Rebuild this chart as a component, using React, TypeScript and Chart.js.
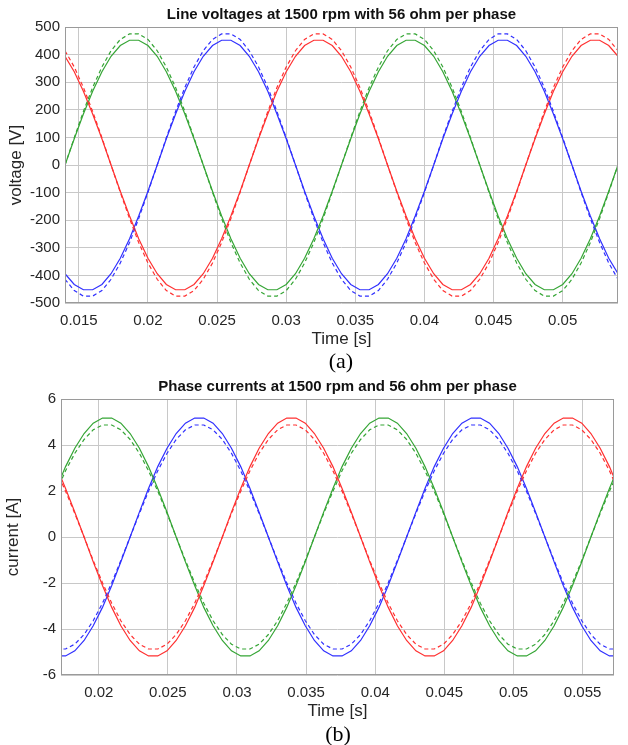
import React, { useEffect, useRef } from "react";
import { Chart, registerables } from "chart.js";

Chart.register(...registerables);

const FONT = "'Liberation Sans', Arial, Helvetica, sans-serif";

// ---------------- (a) Line voltages ----------------
const V_TIME = [
  0.014, 0.01467, 0.01533, 0.016, 0.01667, 0.01733, 0.018, 0.01867, 0.01933, 0.02,
  0.02067, 0.02133, 0.022, 0.02267, 0.02333, 0.024, 0.02467, 0.02533, 0.026, 0.02667,
  0.02733, 0.028, 0.02867, 0.02933, 0.03, 0.03067, 0.03133, 0.032, 0.03267, 0.03333,
  0.034, 0.03467, 0.03533, 0.036, 0.03667, 0.03733, 0.038, 0.03867, 0.03933, 0.04,
  0.04067, 0.04133, 0.042, 0.04267, 0.04333, 0.044, 0.04467, 0.04533, 0.046, 0.04667,
  0.04733, 0.048, 0.04867, 0.04933, 0.05, 0.05067, 0.05133, 0.052, 0.05267, 0.05333,
  0.054,
];

const V_GREEN_SOLID = [
  0, 95, 185, 267, 338, 394, 433, 452, 452, 433, 394, 338, 267, 185, 95, 0, -95, -185, -267, -338, -394, -433, -452, -452, -433, -394, -338, -267, -185, -95,
  0, 95, 185, 267, 338, 394, 433, 452, 452, 433, 394, 338, 267, 185, 95, 0, -95, -185, -267, -338, -394, -433, -452, -452, -433, -394, -338, -267, -185, -95,
  0,
];
const V_RED_SOLID = [
  394, 338, 267, 185, 95, 0, -95, -185, -267, -338, -394, -433, -452, -452, -433, -394, -338, -267, -185, -95,
  0, 95, 185, 267, 338, 394, 433, 452, 452, 433, 394, 338, 267, 185, 95, 0, -95, -185, -267, -338, -394, -433, -452, -452, -433, -394, -338, -267, -185, -95,
  0, 95, 185, 267, 338, 394, 433, 452, 452, 433, 394,
];
const V_BLUE_SOLID = [
  -394, -433, -452, -452, -433, -394, -338, -267, -185, -95,
  0, 95, 185, 267, 338, 394, 433, 452, 452, 433, 394, 338, 267, 185, 95, 0, -95, -185, -267, -338, -394, -433, -452, -452, -433, -394, -338, -267, -185, -95,
  0, 95, 185, 267, 338, 394, 433, 452, 452, 433, 394, 338, 267, 185, 95, 0, -95, -185, -267, -338, -394,
];
const V_GREEN_DASH = [
  0, 99, 194, 281, 355, 414, 455, 475, 475, 455, 414, 355, 281, 194, 99, 0, -99, -194, -281, -355, -414, -455, -475, -475, -455, -414, -355, -281, -194, -99,
  0, 99, 194, 281, 355, 414, 455, 475, 475, 455, 414, 355, 281, 194, 99, 0, -99, -194, -281, -355, -414, -455, -475, -475, -455, -414, -355, -281, -194, -99,
  0,
];
const V_RED_DASH = [
  414, 355, 281, 194, 99, 0, -99, -194, -281, -355, -414, -455, -475, -475, -455, -414, -355, -281, -194, -99,
  0, 99, 194, 281, 355, 414, 455, 475, 475, 455, 414, 355, 281, 194, 99, 0, -99, -194, -281, -355, -414, -455, -475, -475, -455, -414, -355, -281, -194, -99,
  0, 99, 194, 281, 355, 414, 455, 475, 475, 455, 414,
];
const V_BLUE_DASH = [
  -414, -455, -475, -475, -455, -414, -355, -281, -194, -99,
  0, 99, 194, 281, 355, 414, 455, 475, 475, 455, 414, 355, 281, 194, 99, 0, -99, -194, -281, -355, -414, -455, -475, -475, -455, -414, -355, -281, -194, -99,
  0, 99, 194, 281, 355, 414, 455, 475, 475, 455, 414, 355, 281, 194, 99, 0, -99, -194, -281, -355, -414,
];

const V_X_TICKS = [0.015, 0.02, 0.025, 0.03, 0.035, 0.04, 0.045, 0.05];
const V_X_LABELS = ["0.015", "0.02", "0.025", "0.03", "0.035", "0.04", "0.045", "0.05"];
const V_Y_TICKS = [-500, -400, -300, -200, -100, 0, 100, 200, 300, 400, 500];
const V_Y_LABELS = ["-500", "-400", "-300", "-200", "-100", "0", "100", "200", "300", "400", "500"];

// ---------------- (b) Phase currents ----------------
const I_TIME = [
  0.01694, 0.0176, 0.01827, 0.01894, 0.0196, 0.02027, 0.02094, 0.0216, 0.02227, 0.02294,
  0.0236, 0.02427, 0.02494, 0.0256, 0.02627, 0.02694, 0.0276, 0.02827, 0.02894, 0.0296,
  0.03027, 0.03094, 0.0316, 0.03227, 0.03294, 0.0336, 0.03427, 0.03494, 0.0356, 0.03627,
  0.03694, 0.0376, 0.03827, 0.03894, 0.0396, 0.04027, 0.04094, 0.0416, 0.04227, 0.04294,
  0.0436, 0.04427, 0.04494, 0.0456, 0.04627, 0.04694, 0.0476, 0.04827, 0.04894, 0.0496,
  0.05027, 0.05094, 0.0516, 0.05227, 0.05294, 0.0536, 0.05427, 0.05494, 0.0556, 0.05627,
  0.05694, 0.0576,
];

const I_GREEN_SOLID = [
  2.11, 3.06, 3.86, 4.5, 4.95, 5.17, 5.17, 4.95, 4.5, 3.86, 3.06, 2.11, 1.08, 0, -1.08, -2.11, -3.06, -3.86, -4.5, -4.95, -5.17, -5.17, -4.95, -4.5, -3.86, -3.06, -2.11, -1.08,
  0, 1.08, 2.11, 3.06, 3.86, 4.5, 4.95, 5.17, 5.17, 4.95, 4.5, 3.86, 3.06, 2.11, 1.08, 0, -1.08, -2.11, -3.06, -3.86, -4.5, -4.95, -5.17, -5.17, -4.95, -4.5, -3.86, -3.06, -2.11, -1.08,
  0, 1.08, 2.11, 3.06,
];
const I_RED_SOLID = [
  3.06, 2.11, 1.08, 0, -1.08, -2.11, -3.06, -3.86, -4.5, -4.95, -5.17, -5.17, -4.95, -4.5, -3.86, -3.06, -2.11, -1.08,
  0, 1.08, 2.11, 3.06, 3.86, 4.5, 4.95, 5.17, 5.17, 4.95, 4.5, 3.86, 3.06, 2.11, 1.08, 0, -1.08, -2.11, -3.06, -3.86, -4.5, -4.95, -5.17, -5.17, -4.95, -4.5, -3.86, -3.06, -2.11, -1.08,
  0, 1.08, 2.11, 3.06, 3.86, 4.5, 4.95, 5.17, 5.17, 4.95, 4.5, 3.86, 3.06, 2.11,
];
const I_BLUE_SOLID = [
  -5.17, -5.17, -4.95, -4.5, -3.86, -3.06, -2.11, -1.08,
  0, 1.08, 2.11, 3.06, 3.86, 4.5, 4.95, 5.17, 5.17, 4.95, 4.5, 3.86, 3.06, 2.11, 1.08, 0, -1.08, -2.11, -3.06, -3.86, -4.5, -4.95, -5.17, -5.17, -4.95, -4.5, -3.86, -3.06, -2.11, -1.08,
  0, 1.08, 2.11, 3.06, 3.86, 4.5, 4.95, 5.17, 5.17, 4.95, 4.5, 3.86, 3.06, 2.11, 1.08, 0, -1.08, -2.11, -3.06, -3.86, -4.5, -4.95, -5.17, -5.17,
];
const I_GREEN_DASH = [
  1.99, 2.88, 3.64, 4.24, 4.66, 4.87, 4.87, 4.66, 4.24, 3.64, 2.88, 1.99, 1.02, 0, -1.02, -1.99, -2.88, -3.64, -4.24, -4.66, -4.87, -4.87, -4.66, -4.24, -3.64, -2.88, -1.99, -1.02,
  0, 1.02, 1.99, 2.88, 3.64, 4.24, 4.66, 4.87, 4.87, 4.66, 4.24, 3.64, 2.88, 1.99, 1.02, 0, -1.02, -1.99, -2.88, -3.64, -4.24, -4.66, -4.87, -4.87, -4.66, -4.24, -3.64, -2.88, -1.99, -1.02,
  0, 1.02, 1.99, 2.88,
];
const I_RED_DASH = [
  2.88, 1.99, 1.02, 0, -1.02, -1.99, -2.88, -3.64, -4.24, -4.66, -4.87, -4.87, -4.66, -4.24, -3.64, -2.88, -1.99, -1.02,
  0, 1.02, 1.99, 2.88, 3.64, 4.24, 4.66, 4.87, 4.87, 4.66, 4.24, 3.64, 2.88, 1.99, 1.02, 0, -1.02, -1.99, -2.88, -3.64, -4.24, -4.66, -4.87, -4.87, -4.66, -4.24, -3.64, -2.88, -1.99, -1.02,
  0, 1.02, 1.99, 2.88, 3.64, 4.24, 4.66, 4.87, 4.87, 4.66, 4.24, 3.64, 2.88, 1.99,
];
const I_BLUE_DASH = [
  -4.87, -4.87, -4.66, -4.24, -3.64, -2.88, -1.99, -1.02,
  0, 1.02, 1.99, 2.88, 3.64, 4.24, 4.66, 4.87, 4.87, 4.66, 4.24, 3.64, 2.88, 1.99, 1.02, 0, -1.02, -1.99, -2.88, -3.64, -4.24, -4.66, -4.87, -4.87, -4.66, -4.24, -3.64, -2.88, -1.99, -1.02,
  0, 1.02, 1.99, 2.88, 3.64, 4.24, 4.66, 4.87, 4.87, 4.66, 4.24, 3.64, 2.88, 1.99, 1.02, 0, -1.02, -1.99, -2.88, -3.64, -4.24, -4.66, -4.87, -4.87,
];

const I_X_TICKS = [0.02, 0.025, 0.03, 0.035, 0.04, 0.045, 0.05, 0.055];
const I_X_LABELS = ["0.02", "0.025", "0.03", "0.035", "0.04", "0.045", "0.05", "0.055"];
const I_Y_TICKS = [-6, -4, -2, 0, 2, 4, 6];
const I_Y_LABELS = ["-6", "-4", "-2", "0", "2", "4", "6"];

const RED = "#ff3030";
const GREEN = "#35a535";
const BLUE = "#3030ff";

type Series = { values: number[]; color: string; dashed: boolean };

const boxPlugin = {
  id: "axesBox",
  afterDraw(chart: any) {
    const { ctx, chartArea } = chart;
    const l = Math.round(chartArea.left) + 0.5;
    const t = Math.round(chartArea.top) + 0.5;
    const r = Math.round(chartArea.right) - 0.5;
    const b = Math.round(chartArea.bottom) - 0.5;
    ctx.save();
    ctx.strokeStyle = "#9a9a9a";
    ctx.lineWidth = 1;
    ctx.strokeRect(l, t, r - l, b - t);
    ctx.restore();
  },
};

type PlotProps = {
  top: number;
  title: string;
  yTitle: string;
  time: number[];
  series: Series[];
  xMin: number;
  xMax: number;
  xTicks: number[];
  xLabels: string[];
  yMin: number;
  yMax: number;
  yTicks: number[];
  yLabels: string[];
  yAxisWidth: number;
  rightPad: number;
  yTitlePad: number;
};

function Plot(p: PlotProps) {
  const ref = useRef<HTMLCanvasElement | null>(null);
  useEffect(() => {
    const canvas = ref.current;
    if (!canvas) return;
    const chart = new Chart(canvas, {
      type: "line",
      data: {
        datasets: p.series.map((s) => ({
          data: p.time.map((t, i) => ({ x: t, y: s.values[i] })),
          borderColor: s.color,
          backgroundColor: s.color,
          borderWidth: 1.2,
          borderDash: s.dashed ? [4, 3] : [],
          pointRadius: 0,
          fill: false,
          tension: 0,
        })),
      },
      options: {
        animation: false,
        responsive: false,
        devicePixelRatio: 1,
        events: [],
        layout: { padding: { left: 0, right: p.rightPad, top: 0, bottom: 0 } },
        plugins: {
          legend: { display: false },
          tooltip: { enabled: false },
          title: {
            display: true,
            text: p.title,
            fullSize: false,
            color: "#111",
            font: { family: FONT, size: 15, weight: "bold", lineHeight: 1.2 },
            padding: { top: 6, bottom: 3 },
          },
        },
        scales: {
          x: {
            type: "linear",
            min: p.xMin,
            max: p.xMax,
            afterBuildTicks: (s: any) => {
              s.ticks = p.xTicks.map((v) => ({ value: v }));
            },
            afterFit: (s: any) => {
              s.height = 47;
            },
            ticks: {
              autoSkip: false,
              maxRotation: 0,
              padding: 9,
              color: "#262626",
              font: { family: FONT, size: 15 },
              callback: (_v: any, i: number) => p.xLabels[i],
            },
            grid: { color: "#c8c8c8", lineWidth: 1, drawTicks: false },
            border: { display: false },
            title: {
              display: true,
              text: "Time [s]",
              color: "#262626",
              font: { family: FONT, size: 17, lineHeight: 1.2 },
              padding: { top: 0, bottom: 0 },
            },
          },
          y: {
            type: "linear",
            min: p.yMin,
            max: p.yMax,
            afterBuildTicks: (s: any) => {
              s.ticks = p.yTicks.map((v) => ({ value: v }));
            },
            afterFit: (s: any) => {
              s.width = p.yAxisWidth;
            },
            ticks: {
              autoSkip: false,
              padding: 5,
              color: "#262626",
              font: { family: FONT, size: 15 },
              callback: (_v: any, i: number) => p.yLabels[i],
            },
            grid: { color: "#c8c8c8", lineWidth: 1, drawTicks: false },
            border: { display: false },
            title: {
              display: true,
              text: p.yTitle,
              color: "#262626",
              font: { family: FONT, size: 17, lineHeight: 1.2 },
              padding: { top: p.yTitlePad, bottom: 0 },
            },
          },
        },
      } as any,
      plugins: [boxPlugin],
    });
    return () => chart.destroy();
  }, []);
  return (
    <canvas
      ref={ref}
      width={628}
      height={350}
      style={{ position: "absolute", left: 0, top: p.top, width: 628, height: 350 }}
    />
  );
}

const capStyle = (top: number, center: number): React.CSSProperties => ({
  position: "absolute",
  top,
  left: center - 100,
  width: 200,
  textAlign: "center",
  fontFamily: "'Liberation Serif', 'Times New Roman', serif",
  fontSize: 22,
  lineHeight: "24px",
  color: "#000",
});

export default function App() {
  return (
    <div style={{ position: "absolute", left: 0, top: 0, width: 628, height: 745, background: "#fff", overflow: "hidden" }}>
      <Plot
        top={0}
        title="Line voltages at 1500 rpm with 56 ohm per phase"
        yTitle="voltage [V]"
        time={V_TIME}
        series={[
          { values: V_RED_DASH, color: RED, dashed: true },
          { values: V_GREEN_DASH, color: GREEN, dashed: true },
          { values: V_BLUE_DASH, color: BLUE, dashed: true },
          { values: V_RED_SOLID, color: RED, dashed: false },
          { values: V_GREEN_SOLID, color: GREEN, dashed: false },
          { values: V_BLUE_SOLID, color: BLUE, dashed: false },
        ]}
        xMin={0.014}
        xMax={0.054}
        xTicks={V_X_TICKS}
        xLabels={V_X_LABELS}
        yMin={-500}
        yMax={500}
        yTicks={V_Y_TICKS}
        yLabels={V_Y_LABELS}
        yAxisWidth={65}
        rightPad={10}
        yTitlePad={6}
      />
      <div style={capStyle(349, 341)}>(a)</div>
      <Plot
        top={372}
        title="Phase currents at 1500 rpm and 56 ohm per phase"
        yTitle="current [A]"
        time={I_TIME}
        series={[
          { values: I_RED_DASH, color: RED, dashed: true },
          { values: I_GREEN_DASH, color: GREEN, dashed: true },
          { values: I_BLUE_DASH, color: BLUE, dashed: true },
          { values: I_RED_SOLID, color: RED, dashed: false },
          { values: I_GREEN_SOLID, color: GREEN, dashed: false },
          { values: I_BLUE_SOLID, color: BLUE, dashed: false },
        ]}
        xMin={0.01727}
        xMax={0.05727}
        xTicks={I_X_TICKS}
        xLabels={I_X_LABELS}
        yMin={-6}
        yMax={6}
        yTicks={I_Y_TICKS}
        yLabels={I_Y_LABELS}
        yAxisWidth={61}
        rightPad={14}
        yTitlePad={3}
      />
      <div style={capStyle(722, 338)}>(b)</div>
    </div>
  );
}
